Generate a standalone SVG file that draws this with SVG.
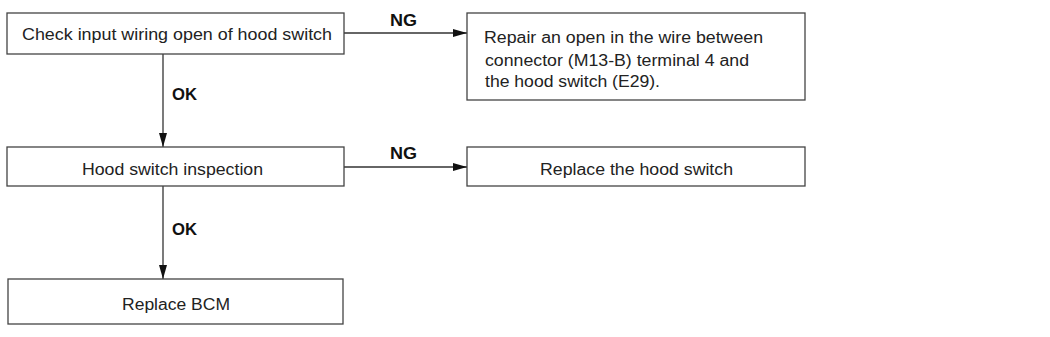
<svg xmlns="http://www.w3.org/2000/svg" width="1050" height="337" viewBox="0 0 1050 337">
<style>
.box{fill:#fff;stroke:#444;stroke-width:1.3}
.t{font-family:"Liberation Sans",Arial,sans-serif;font-size:16px;fill:#222}
.lbl{font-family:"Liberation Sans",Arial,sans-serif;font-size:16px;font-weight:bold;fill:#111}
.ln{stroke:#333;stroke-width:1.3;fill:none}
</style>
<defs>
<marker id="ah" markerWidth="14" markerHeight="8" refX="14" refY="4" orient="auto" markerUnits="userSpaceOnUse">
<path d="M0,0 L14,4 L0,8 Z" fill="#111"/>
</marker>
</defs>
<rect width="1050" height="337" fill="#fff"/>
<g id="connectors">
<line class="ln" x1="344" y1="33" x2="467" y2="33" marker-end="url(#ah)"/>
<line class="ln" x1="163" y1="54" x2="163" y2="147" marker-end="url(#ah)"/>
<line class="ln" x1="344" y1="167" x2="467" y2="167" marker-end="url(#ah)"/>
<line class="ln" x1="163" y1="186" x2="163" y2="279" marker-end="url(#ah)"/>
<text class="lbl" x="390" y="25.5" textLength="27" lengthAdjust="spacingAndGlyphs">NG</text>
<text class="lbl" x="390" y="159" textLength="27" lengthAdjust="spacingAndGlyphs">NG</text>
<text class="lbl" x="172" y="100" textLength="25" lengthAdjust="spacingAndGlyphs">OK</text>
<text class="lbl" x="172" y="235" textLength="25" lengthAdjust="spacingAndGlyphs">OK</text>
</g>
<g id="n1">
<rect class="box" x="7" y="13" width="337" height="41"/>
<text class="t" x="22" y="40" textLength="310" lengthAdjust="spacingAndGlyphs">Check input wiring open of hood switch</text>
</g>
<g id="n2">
<rect class="box" x="467" y="13" width="338" height="87"/>
<text class="t" x="484" y="43.3" textLength="279" lengthAdjust="spacingAndGlyphs">Repair an open in the wire between</text>
<text class="t" x="485" y="65.5" textLength="264" lengthAdjust="spacingAndGlyphs">connector (M13-B) terminal 4 and</text>
<text class="t" x="485" y="87" textLength="175" lengthAdjust="spacingAndGlyphs">the hood switch (E29).</text>
</g>
<g id="n3">
<rect class="box" x="7" y="147" width="337" height="39"/>
<text class="t" x="82" y="175" textLength="181" lengthAdjust="spacingAndGlyphs">Hood switch inspection</text>
</g>
<g id="n4">
<rect class="box" x="467" y="147" width="338" height="39"/>
<text class="t" x="540" y="175" textLength="193" lengthAdjust="spacingAndGlyphs">Replace the hood switch</text>
</g>
<g id="n5">
<rect class="box" x="8" y="279" width="335" height="45"/>
<text class="t" x="122" y="310" textLength="108" lengthAdjust="spacingAndGlyphs">Replace BCM</text>
</g>
</svg>
